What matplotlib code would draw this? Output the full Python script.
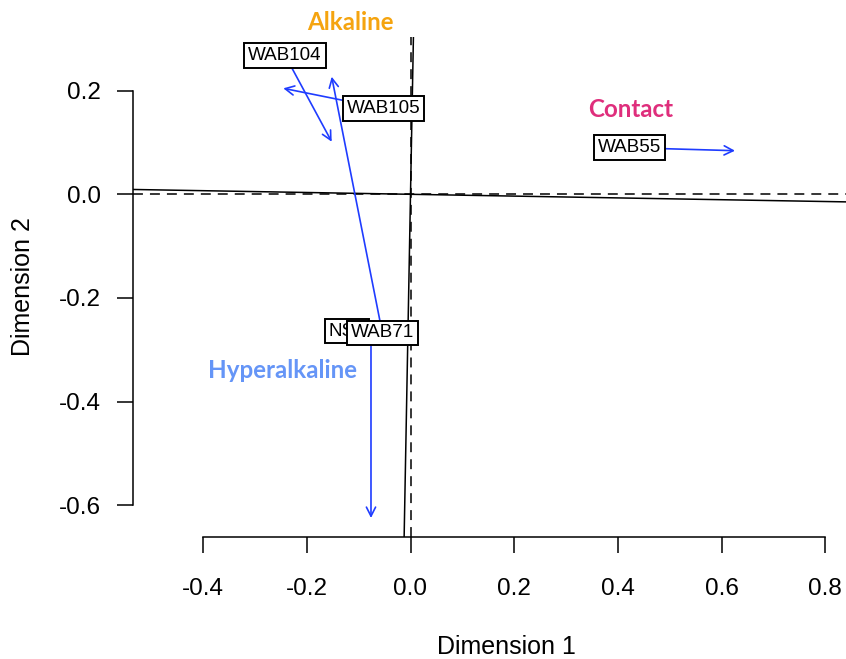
import matplotlib
matplotlib.use("Agg")
import matplotlib.pyplot as plt
from matplotlib.patches import FancyArrowPatch

plt.rcParams['font.family'] = ['Liberation Sans', 'DejaVu Sans']

# -------------------- data --------------------

# arrows: tail -> head (Dimension 1, Dimension 2)
tail_x = [-0.2420, -0.0521, -0.0544, -0.0762, 0.4230]
tail_y = [0.2681, 0.1655, -0.2671, -0.2640, 0.0899]
head_x = [-0.1520, -0.2453, -0.1520, -0.0762, 0.6258]
head_y = [0.1014, 0.2044, 0.2268, -0.6243, 0.0841]

# boxed site labels, later ones drawn on top
site_names = ["WAB104", "WAB105", "NS1", "WAB71", "WAB55"]
site_x = [-0.2420, -0.0521, -0.1230, -0.0544, 0.4230]
site_y = [0.2681, 0.1655, -0.2640, -0.2671, 0.0899]

# group annotations (baseline positions)
group_names = ["Alkaline", "Contact", "Hyperalkaline"]
group_x = [-0.1161, 0.4253, -0.2469]
group_y = [0.3169, 0.1497, -0.3549]
group_colors = ["#F5A40F", "#DF2E7C", "#6595F7"]

# rotated axes of the target configuration (slopes)
rot_slope_1 = -0.0174
rot_slope_2 = 53.8

xticks = [-0.4, -0.2, 0.0, 0.2, 0.4, 0.6, 0.8]
yticks = [-0.6, -0.4, -0.2, 0.0, 0.2]

# -------------------- plot --------------------

W, H = 846, 659
fig = plt.figure(figsize=(W / 100, H / 100), dpi=100)
left, right, top, bottom = 133.3, 846, 37, 536.7
ax = fig.add_axes([left / W, 1 - bottom / H, (right - left) / W, (bottom - top) / H])

x0px, y0px, scale = 410.5, 194.3, 518.5
ax.set_xlim((left - x0px) / scale, (right - x0px) / scale)
ax.set_ylim((y0px - bottom) / scale, (y0px - top) / scale)

dash = (0, (6.5, 4.6))
ax.axhline(0, color="black", lw=1.1, ls=dash, zorder=1)
ax.axvline(0, color="black", lw=1.1, ls=dash, zorder=1)
ax.axline((0, 0), slope=rot_slope_1, color="black", lw=1.1, zorder=1)
ax.axline((0, 0), slope=rot_slope_2, color="black", lw=1.1, zorder=1)

for xa, ya, xb, yb in zip(tail_x, tail_y, head_x, head_y):
    arr = FancyArrowPatch((xa, ya), (xb, yb),
                          arrowstyle="->,head_length=0.65,head_width=0.33",
                          mutation_scale=10, color="#1f3cff", lw=1.2,
                          shrinkA=0, shrinkB=0, zorder=3)
    ax.add_patch(arr)

for i, (name, x, y) in enumerate(zip(site_names, site_x, site_y)):
    ax.text(x, y, name, ha="center", va="center", fontsize=13.6, zorder=5 + i,
            bbox=dict(boxstyle="square,pad=0.2", fc="white", ec="black", lw=1.4))

for name, x, y, c in zip(group_names, group_x, group_y, group_colors):
    ax.text(x, y, name, ha="center", va="baseline", fontsize=17.4,
            fontweight="bold", color=c, family=["Lato", "DejaVu Sans"],
            clip_on=False)

# R-style axes
for s in ["top", "right"]:
    ax.spines[s].set_visible(False)
ax.spines["left"].set_bounds(yticks[0], yticks[-1])
ax.spines["bottom"].set_bounds(xticks[0], xticks[-1])
for s in ["left", "bottom"]:
    ax.spines[s].set_linewidth(1.1)

ax.set_xticks(xticks)
ax.set_yticks(yticks)
ax.set_xticklabels([f"{v:.1f}" for v in xticks])
ax.set_yticklabels([f"{v:.1f}" for v in yticks])
ax.tick_params(axis="both", direction="out", length=11.5, width=1.1, labelsize=17.5)
ax.tick_params(axis="x", pad=18)
ax.tick_params(axis="y", pad=12)

ax.set_xlabel("Dimension 1", fontsize=18, va="center")
ax.set_ylabel("Dimension 2", fontsize=18, va="center")
ax.xaxis.set_label_coords(506.7 / W, 1 - 647.5 / H, transform=fig.transFigure)
ax.yaxis.set_label_coords(23.3 / W, 1 - 286.7 / H, transform=fig.transFigure)

fig.savefig("out.png", dpi=100)
